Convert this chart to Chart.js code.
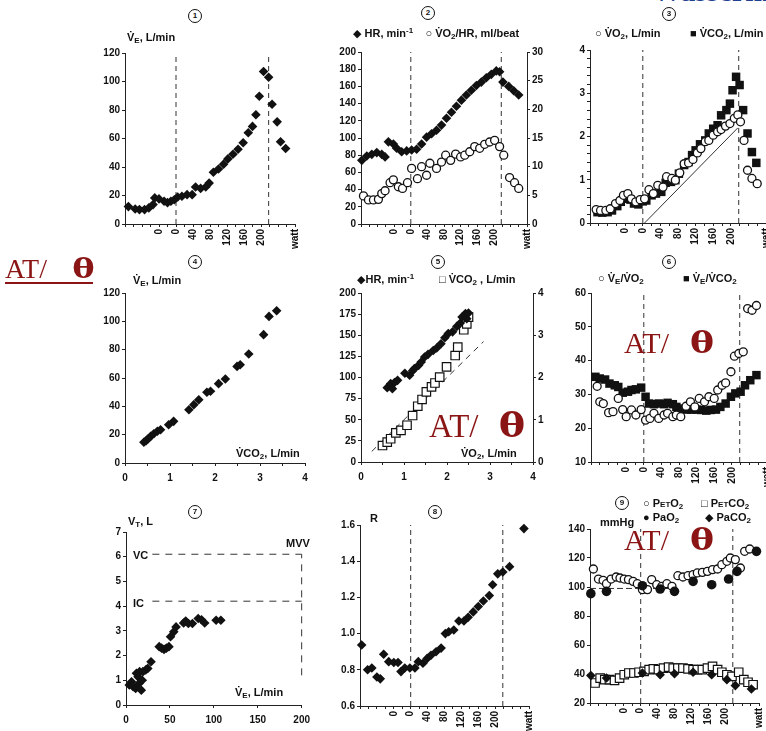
<!DOCTYPE html>
<html>
<head>
<meta charset="utf-8">
<script src="https://cdn.jsdelivr.net/npm/chart.js@4.4.0/dist/chart.umd.min.js"></script>
<style>
  body { margin: 0; background: #fff; width: 766px; height: 731px; overflow: hidden; position: relative;
         font-family: 'Liberation Sans', 'DejaVu Sans', sans-serif; }
  canvas { position: absolute; }
  .lbl { position: absolute; font-size: 11px; font-weight: bold; color: #111; white-space: nowrap; line-height: 12px; }
  .lbl sub { font-size: 8px; vertical-align: -2px; line-height: 0; }
  .lbl sup { font-size: 8px; vertical-align: 4px; line-height: 0; }
  .lbl small { font-size: 8px; }
  .num { position: absolute; width: 12px; height: 12px; border: 1.6px solid #111; border-radius: 50%;
         font-size: 8px; font-weight: bold; text-align: center; line-height: 12px; color: #111; }
  .at { position: absolute; font-family: 'Liberation Serif', 'Times New Roman', serif; color: #8b1515;
        line-height: 1; white-space: nowrap; }
  .at b { font-family: 'DejaVu Serif', serif; display: inline-block; transform: scaleX(1.2); }
  .wm { position: absolute; left: 652px; top: -26px; font-family: 'Liberation Serif', serif; font-weight: bold;
        font-size: 30px; color: #1f3f8f; white-space: nowrap; }
</style>
</head>
<body>
<div class="wm">Wasserman</div>

<canvas id="c1"></canvas><canvas id="c2"></canvas><canvas id="c3"></canvas>
<canvas id="c4"></canvas><canvas id="c5"></canvas><canvas id="c6"></canvas>
<canvas id="c7"></canvas><canvas id="c8"></canvas><canvas id="c9"></canvas>

<!-- panel 1 -->
<div class="num" style="left:188px;top:9px">1</div>
<div class="lbl" style="left:127px;top:31px">V&#775;<sub>E</sub>, L/min</div>
<!-- panel 2 -->
<div class="num" style="left:421px;top:6px">2</div>
<div class="lbl" style="left:353px;top:27px">&#9670; HR, min<sup>-1</sup>&nbsp;&nbsp;&nbsp;&nbsp;&#9675; V&#775;O<sub>2</sub>/HR, ml/beat</div>
<!-- panel 3 -->
<div class="num" style="left:662px;top:7px">3</div>
<div class="lbl" style="left:595px;top:27px">&#9675; V&#775;O<sub>2</sub>, L/min</div>
<div class="lbl" style="left:690px;top:27px">&#9632; V&#775;CO<sub>2</sub>, L/min</div>
<!-- panel 4 -->
<div class="num" style="left:188px;top:255px">4</div>
<div class="lbl" style="left:133px;top:274px">V&#775;<sub>E</sub>, L/min</div>
<div class="lbl" style="left:236px;top:447px">V&#775;CO<sub>2</sub>, L/min</div>
<!-- panel 5 -->
<div class="num" style="left:431px;top:255px">5</div>
<div class="lbl" style="left:357px;top:273px">&#9670;HR, min<sup>-1</sup></div>
<div class="lbl" style="left:439px;top:273px">&#9633; V&#775;CO<sub>2</sub> , L/min</div>
<div class="lbl" style="left:461px;top:447px">V&#775;O<sub>2</sub>, L/min</div>
<!-- panel 6 -->
<div class="num" style="left:662px;top:255px">6</div>
<div class="lbl" style="left:598px;top:272px">&#9675; V&#775;<sub>E</sub>/V&#775;O<sub>2</sub></div>
<div class="lbl" style="left:683px;top:272px">&#9632; V&#775;<sub>E</sub>/V&#775;CO<sub>2</sub></div>
<!-- panel 7 -->
<div class="num" style="left:188px;top:505px">7</div>
<div class="lbl" style="left:128px;top:515px">V<sub>T</sub>, L</div>
<div class="lbl" style="left:286px;top:537px">MVV</div>
<div class="lbl" style="left:133px;top:549px">VC</div>
<div class="lbl" style="left:133px;top:597px">IC</div>
<div class="lbl" style="left:235px;top:686px">V&#775;<sub>E</sub>, L/min</div>
<!-- panel 8 -->
<div class="num" style="left:428px;top:505px">8</div>
<div class="lbl" style="left:370px;top:512px">R</div>
<!-- panel 9 -->
<div class="num" style="left:615px;top:496px">9</div>
<div class="lbl" style="left:643px;top:497px">&#9675; P<small>ET</small>O<sub>2</sub></div>
<div class="lbl" style="left:701px;top:497px">&#9633; P<small>ET</small>CO<sub>2</sub></div>
<div class="lbl" style="left:643px;top:511px">&#9679; PaO<sub>2</sub></div>
<div class="lbl" style="left:705px;top:511px">&#9670; PaCO<sub>2</sub></div>
<div class="lbl" style="left:600px;top:516px">mmHg</div>

<!-- AT / theta marks -->
<div class="at" style="left:5px;top:257px;font-size:28px;border-bottom:2px solid #8b1515;padding-bottom:1px;line-height:24px">AT/<b style="margin-left:27px">&theta;</b></div>
<div class="at" style="left:429px;top:409px;font-size:33px">AT/<b style="margin-left:22px">&theta;</b></div>
<div class="at" style="left:624px;top:328px;font-size:30px">AT/<b style="margin-left:23px">&theta;</b></div>
<div class="at" style="left:624px;top:525px;font-size:30px">AT/<b style="margin-left:23px">&theta;</b></div>

<script>
// ---------- data ----------
// time axis (minutes) shared by panels 1,2,3,6,8,9
const rampTicks = [4, 6, 8, 10, 12, 14, 16, 20];
const rampLabels = ['0', '0', '40', '80', '120', '160', '200', 'watt'];
const rampMarks = [6, 16.9];   // start of ramp, end of exercise

// 1: VE vs time
const p1Time = [0.4, 1.2, 1.7, 2.3, 2.8, 3.3, 3.5, 4.0, 4.6, 5.0, 5.4, 5.8, 6.2, 6.7, 7.3, 7.9, 8.3, 8.9, 9.5, 9.9, 10.4, 11.0, 11.6, 12.1, 12.7, 13.3, 13.9, 14.5, 15.0, 15.4, 15.8, 16.3, 16.9, 17.3, 17.9, 18.3, 18.9];
const p1VE = [12.2, 10.5, 10.1, 10.1, 11.3, 13.6, 18.3, 17.6, 16, 15, 16, 17, 19, 19.5, 20.6, 20.6, 26, 25, 26, 28.7, 36.3, 38.6, 42, 45.7, 49, 52.5, 57, 64, 68.5, 76.7, 89.6, 107, 103, 84, 71.7, 57.7, 53];

// 2: HR and O2 pulse vs time
const p2HRTime = [0.1, 0.7, 1.3, 1.9, 2.5, 2.9, 3.3, 3.9, 4.3, 4.9, 5.5, 6.1, 6.7, 7.3, 7.9, 8.5, 9.1, 9.7, 10.3, 10.9, 11.5, 12.1, 12.7, 13.3, 13.9, 14.5, 15.1, 15.7, 16.3, 16.7, 17.1, 17.8, 18.4, 19.0];
const p2HR = [74, 79, 81, 83, 81, 78, 95.5, 93, 88, 84, 85, 86, 87, 93, 101, 105, 109, 115, 123, 130, 137, 144, 150, 155.5, 161, 165, 170, 174, 178, 177, 165, 160, 155, 150];
const p2PulseTime = [0.3, 0.9, 1.5, 2.1, 2.5, 2.9, 3.5, 3.9, 4.5, 5.0, 5.6, 6.1, 6.8, 7.3, 7.9, 8.3, 9.1, 9.7, 10.2, 10.8, 11.4, 12.0, 12.5, 13.1, 13.7, 14.3, 14.9, 15.5, 16.1, 16.7, 17.2, 17.9, 18.5, 19.0];
const p2Pulse = [4.9, 4.2, 4.2, 4.3, 5.3, 5.8, 7.2, 7.7, 6.5, 6.2, 7.2, 9.7, 7.9, 10, 8.5, 10.6, 9.7, 10.8, 12, 11.1, 12.2, 11.7, 12, 12.6, 13.5, 13.2, 13.9, 14.3, 14.6, 13.5, 12, 8.1, 7.2, 6.2];

// 3: VO2 and VCO2 vs time
const p3VO2Time = [0.7, 1.2, 1.8, 2.3, 2.9, 3.4, 3.8, 4.3, 4.7, 5.2, 5.7, 6.2, 6.7, 7.2, 7.7, 8.3, 8.7, 9.3, 9.7, 10.2, 10.7, 11.2, 11.7, 12.2, 12.6, 13.1, 13.5, 14.0, 14.5, 14.9, 15.4, 15.9, 16.4, 16.8, 17.1, 17.5, 17.9, 18.4, 19.0];
const p3VO2 = [0.31, 0.29, 0.29, 0.33, 0.45, 0.52, 0.64, 0.68, 0.56, 0.49, 0.54, 0.56, 0.77, 0.68, 0.87, 0.83, 1.07, 1.03, 0.99, 1.16, 1.37, 1.39, 1.47, 1.62, 1.72, 1.88, 1.91, 2.03, 2.11, 2.16, 2.24, 2.3, 2.42, 2.5, 2.34, 1.91, 1.22, 1.03, 0.91];
const p3VCO2Time = [0.85, 1.4, 2.0, 2.5, 3.1, 3.5, 4.0, 4.6, 5.0, 5.5, 6.0, 6.4, 7.0, 7.5, 8.1, 8.6, 9.2, 9.7, 10.1, 10.7, 11.2, 11.6, 12.0, 12.5, 13.1, 13.5, 14.0, 14.5, 14.9, 15.5, 15.9, 16.2, 16.6, 17.0, 17.4, 17.9, 18.4, 18.9];
const p3VCO2 = [0.25, 0.24, 0.25, 0.29, 0.39, 0.49, 0.56, 0.54, 0.45, 0.43, 0.5, 0.52, 0.64, 0.68, 0.72, 0.93, 0.95, 0.99, 1.14, 1.34, 1.41, 1.57, 1.68, 1.82, 1.91, 2.07, 2.18, 2.26, 2.49, 2.61, 2.76, 3.07, 3.38, 3.19, 2.61, 2.07, 1.64, 1.39];
const p3LineTime = [6.2, 16.8];
const p3LineVO2 = [0, 2.2];

// 4: VE vs VCO2
const p4VCO2 = [0.42, 0.47, 0.51, 0.57, 0.64, 0.72, 0.79, 0.97, 1.08, 1.42, 1.53, 1.64, 1.82, 1.9, 2.08, 2.23, 2.49, 2.56, 2.75, 3.08, 3.2, 3.37];
const p4VE = [14.6, 15.8, 16.9, 18.8, 20.7, 22.4, 23.5, 27, 29.4, 37.6, 41.2, 44.7, 49.9, 50.6, 56, 59.3, 68.2, 69.4, 76.9, 90.6, 103.5, 107.5];

// 5: HR and VCO2 vs VO2
const p5HRVO2 = [0.61, 0.69, 0.73, 0.78, 0.85, 1.02, 1.13, 1.2, 1.24, 1.34, 1.4, 1.48, 1.56, 1.68, 1.76, 1.86, 1.95, 2.03, 2.13, 2.23, 2.31, 2.35, 2.43, 2.46, 2.5];
const p5HR = [88, 92.7, 86.8, 94, 96.6, 105, 102.6, 108, 110.5, 114.4, 118.3, 124.3, 127.4, 132, 135, 140, 147, 152, 154, 160.5, 164.5, 171.6, 175.6, 169.6, 176.3];
const p5CO2VO2 = [0.5, 0.61, 0.69, 0.81, 0.93, 1.07, 1.2, 1.32, 1.42, 1.52, 1.64, 1.72, 1.83, 1.99, 2.19, 2.25, 2.39, 2.46, 2.5];
const p5VCO2 = [0.39, 0.47, 0.55, 0.69, 0.75, 0.87, 1.1, 1.32, 1.48, 1.66, 1.78, 1.87, 2.01, 2.25, 2.52, 2.72, 3.13, 3.27, 3.43];
const p5LineVO2 = [0.25, 2.85];
const p5LineVCO2 = [0.25, 2.85];

// 6: ventilatory equivalents vs time
const p6EqO2Time = [0.7, 1.0, 1.4, 2.0, 2.5, 3.1, 3.6, 4.0, 4.6, 5.1, 5.7, 6.2, 6.7, 7.15, 7.7, 8.3, 8.7, 9.3, 9.7, 10.2, 10.8, 11.3, 11.8, 12.3, 12.9, 13.4, 14.0, 14.4, 14.9, 15.3, 15.9, 16.3, 16.8, 17.3, 17.8, 18.3, 18.8];
const p6EqO2 = [32.4, 27.8, 27.3, 24.6, 24.9, 28.8, 25.5, 23.4, 25.4, 23.9, 25.5, 22.4, 22.9, 24.4, 22.9, 23.9, 24.4, 23.4, 23.9, 23.4, 26.5, 27.8, 26.3, 28.8, 27.8, 29.3, 28.8, 31.3, 32.7, 33.4, 36.7, 41.3, 42.1, 42.6, 55.4, 54.9, 56.3];
const p6EqCO2Time = [0.5, 1.0, 1.6, 2.1, 2.7, 3.1, 3.6, 4.2, 4.6, 5.1, 5.7, 6.2, 6.6, 7.15, 7.7, 8.3, 8.7, 9.3, 9.7, 10.3, 10.9, 11.4, 12.0, 12.5, 13.1, 13.6, 14.2, 14.7, 15.3, 15.9, 16.4, 17.0, 17.5, 18.1, 18.8];
const p6EqCO2 = [35.2, 34.7, 34.4, 33.2, 32.7, 32.2, 30.5, 30.8, 31.3, 31.5, 32.0, 29.3, 27.3, 27.1, 27.3, 27.1, 27.5, 27.1, 26.3, 25.8, 25.5, 25.5, 25.5, 25.4, 25.2, 25.4, 25.5, 26.3, 27.3, 29.3, 30.3, 30.8, 32.7, 34.2, 35.7];

// 7: VT vs VE
const p7VE = [3.7, 6.3, 8.1, 11, 11.9, 13.7, 14.8, 15.5, 17.4, 18.5, 19.3, 22.5, 24.8, 28.5, 37.8, 40.5, 43.3, 46, 48.9, 50.7, 54.4, 57, 65.6, 68, 71, 75.6, 82.2, 86, 89.6, 102.6, 108];
const p7VT = [0.81, 0.94, 0.74, 0.67, 1.28, 1.14, 0.87, 1.35, 0.6, 1.0, 1.35, 1.42, 1.48, 1.75, 2.36, 2.3, 2.25, 2.3, 2.36, 2.76, 2.96, 3.16, 3.32, 3.4, 3.3, 3.3, 3.5, 3.45, 3.32, 3.43, 3.43];
const p7VCLevel = 6.1;
const p7ICLevel = 4.2;
const p7MVV = 200;

// 8: R vs time
const p8Time = [0.2, 0.9, 1.4, 2.0, 2.4, 2.8, 3.4, 4.0, 4.5, 4.85, 5.3, 5.9, 6.5, 6.9, 7.45, 7.95, 8.4, 9.0, 9.6, 10.1, 10.5, 11.1, 11.7, 12.3, 12.8, 13.4, 14.0, 14.6, 15.3, 15.7, 16.3, 16.9, 17.7, 19.4];
const p8R = [0.937, 0.80, 0.81, 0.76, 0.75, 0.886, 0.845, 0.84, 0.84, 0.79, 0.81, 0.81, 0.81, 0.845, 0.836, 0.863, 0.88, 0.90, 0.92, 1.0, 1.01, 1.02, 1.07, 1.07, 1.09, 1.12, 1.15, 1.18, 1.21, 1.27, 1.33, 1.34, 1.37, 1.58];

// 9: gas tensions vs time
const p9PetO2Time = [0.4, 1.0, 1.55, 1.95, 2.5, 3.1, 3.55, 4.05, 4.55, 5.1, 5.6, 6.2, 6.8, 7.3, 7.9, 8.5, 9.1, 9.7, 10.4, 11.0, 11.6, 12.2, 12.7, 13.3, 13.9, 14.5, 15.1, 15.6, 16.2, 16.6, 17.2, 17.8, 18.3, 18.9];
const p9PetO2 = [112.4, 105.5, 104.6, 102.3, 105.5, 106.9, 106.2, 105.5, 105.1, 103.9, 102.3, 98.2, 98.2, 105.1, 101.6, 100.5, 102.3, 100.5, 107.8, 106.9, 107.8, 108.5, 109.7, 110.1, 110.8, 112, 112.4, 115.4, 117.7, 120, 118.9, 113.1, 124.6, 126.2];
const p9PaO2Time = [0.1, 1.95, 6.2, 8.3, 10.0, 12.2, 14.4, 16.4, 17.4, 19.7];
const p9PaO2 = [95.4, 97, 100.9, 98.6, 97, 103.9, 101.6, 105.5, 110.8, 124.6];
const p9PetCO2Time = [0.6, 1.2, 1.75, 2.3, 2.9, 3.5, 4.05, 4.6, 5.2, 5.8, 6.4, 7.0, 7.5, 8.1, 8.7, 9.3, 9.85, 10.4, 11.0, 11.6, 12.2, 12.7, 13.3, 13.9, 14.5, 15.1, 15.6, 16.2, 16.8, 17.6, 18.2, 18.7, 19.3];
const p9PetCO2 = [33.8, 37.2, 36.1, 36.1, 35.6, 37.2, 39.5, 40.7, 40.7, 41.2, 41.8, 43, 43.5, 43, 44.1, 44.8, 44.1, 44.1, 44.1, 43.5, 43, 43, 43, 44.1, 45.3, 43, 41.2, 39.5, 38.4, 41.2, 36.1, 34.3, 32.6];
const p9PaCO2Time = [0.1, 1.95, 6.2, 8.3, 10.0, 12.2, 14.4, 16.2, 17.2, 19.1];
const p9PaCO2 = [38.9, 37.2, 40.7, 39.5, 40.2, 41.2, 39.5, 36.1, 32, 29.7];
const p9RestLineTime = [0, 10];
const p9RestLine = [99, 99];

// ---------- helpers ----------
Chart.defaults.font.family = "'Liberation Sans', Arial, sans-serif";
const INK = '#111';
const tickFont = { size: 10, weight: 'bold' };

const pts = (xs, ys) => xs.map((x, i) => ({ x: x, y: ys[i] }));

const diamond = { pointStyle: 'rectRot', pointRadius: 4.8, backgroundColor: INK, borderColor: INK, borderWidth: 0 };
const ring = { pointStyle: 'circle', pointRadius: 4, backgroundColor: '#fff', borderColor: INK, borderWidth: 1.3 };
const block = { pointStyle: 'rect', pointRadius: 6, backgroundColor: INK, borderColor: INK, borderWidth: 0 };
const box = { pointStyle: 'rect', pointRadius: 6, backgroundColor: '#fff', borderColor: INK, borderWidth: 1.2 };
const disc = { pointStyle: 'circle', pointRadius: 4.8, backgroundColor: INK, borderColor: INK, borderWidth: 0 };

function marks(xs, ys, style, axis) {
  return Object.assign({ data: pts(xs, ys), yAxisID: axis || 'y', clip: false }, style);
}
function line(xs, ys, dash, axis) {
  return { data: pts(xs, ys), showLine: true, pointRadius: 0, borderColor: '#333', borderWidth: 1,
           borderDash: dash || [], yAxisID: axis || 'y', clip: false };
}
function rampLines(lo, hi) {
  return rampMarks.map(t => line([t, t], [lo, hi], [5, 4]));
}

function axis(pos, min, max, values, fmt, size) {
  return {
    type: 'linear', position: pos, min: min, max: max,
    border: { display: true, color: '#222', width: 1 },
    grid: { drawOnChartArea: false, drawTicks: true, tickLength: 3, color: '#222' },
    ticks: { color: INK, font: tickFont, padding: 2, autoSkip: false,
             callback: fmt || (v => String(v)) },
    afterBuildTicks: s => { s.ticks = values.map(v => ({ value: v })); },
    afterFit: s => { if (pos === 'bottom') s.height = size; else s.width = size; }
  };
}
function range(a, b, step) {
  const out = [];
  for (let v = a; v <= b + 1e-9; v += step) out.push(Math.round(v * 1000) / 1000);
  return out;
}
function rampAxis() {
  const a = axis('bottom', 0, 20, range(0, 20, 1), v => {
    const i = rampTicks.indexOf(v);
    return i < 0 ? '' : rampLabels[i];
  }, 45);
  a.ticks.minRotation = 90;
  a.ticks.maxRotation = 90;
  return a;
}
function valueAxis(min, max, step, labelStep) {
  const a = axis('bottom', min, max, range(min, max, step),
    v => (Math.abs(v / labelStep - Math.round(v / labelStep)) < 1e-6 ? String(v) : ''), 45);
  a.ticks.padding = 6;
  a.ticks.maxRotation = 0;
  return a;
}

// place a canvas so that its chart area lands on the given page box
function panel(id, area, datasets, scales, rightAxis) {
  const padL = 40, padT = 10, padR = rightAxis ? 40 : 10, padB = 45;
  const cv = document.getElementById(id);
  cv.width = area.r - area.l + padL + padR;
  cv.height = area.b - area.t + padT + padB;
  cv.style.left = (area.l - padL) + 'px';
  cv.style.top = (area.t - padT) + 'px';
  new Chart(cv, {
    type: 'scatter',
    data: { datasets: datasets },
    options: {
      responsive: false,
      animation: false,
      layout: { padding: { left: 0, top: padT, right: rightAxis ? 0 : padR, bottom: 0 } },
      plugins: { legend: { display: false }, tooltip: { enabled: false } },
      scales: scales
    }
  });
}

// ---------- panels ----------
panel('c1', { l: 125, r: 299, t: 53, b: 224 }, [
  marks(p1Time, p1VE, diamond),
  ...rampLines(0, 120)
], { x: rampAxis(), y: axis('left', 0, 120, range(0, 120, 20), null, 40) });

panel('c2', { l: 361, r: 527, t: 52, b: 224 }, [
  marks(p2HRTime, p2HR, diamond),
  marks(p2PulseTime, p2Pulse, ring, 'y2'),
  ...rampLines(0, 200)
], { x: rampAxis(), y: axis('left', 0, 200, range(0, 200, 20), null, 40),
     y2: axis('right', 0, 30, range(0, 30, 5), null, 40) }, true);

panel('c3', { l: 590, r: 770, t: 50, b: 223 }, [
  marks(p3VO2Time, p3VO2, ring),
  marks(p3VCO2Time, p3VCO2, block),
  line(p3LineTime, p3LineVO2),
  ...rampLines(0, 4)
], { x: rampAxis(), y: axis('left', 0, 4, range(0, 4, 0.2), v => (Number.isInteger(v) ? String(v) : ''), 40) });

panel('c4', { l: 125, r: 305, t: 293, b: 463 }, [
  marks(p4VCO2, p4VE, diamond)
], { x: valueAxis(0, 4, 0.5, 1), y: axis('left', 0, 120, range(0, 120, 20), null, 40) });

panel('c5', { l: 361, r: 533, t: 293, b: 462 }, [
  marks(p5HRVO2, p5HR, diamond),
  marks(p5CO2VO2, p5VCO2, box, 'y2'),
  line(p5LineVO2, p5LineVCO2, [6, 5], 'y2')
], { x: valueAxis(0, 4, 0.5, 1), y: axis('left', 0, 200, range(0, 200, 25), null, 40),
     y2: axis('right', 0, 4, range(0, 4, 1), null, 40) }, true);

panel('c6', { l: 591, r: 771, t: 293, b: 462 }, [
  marks(p6EqO2Time, p6EqO2, ring),
  marks(p6EqCO2Time, p6EqCO2, block),
  ...rampLines(10, 60)
], { x: rampAxis(), y: axis('left', 10, 60, range(10, 60, 10), null, 40) });

panel('c7', { l: 126, r: 306, t: 532, b: 705 }, [
  marks(p7VE, p7VT, diamond),
  line([30, p7MVV], [p7VCLevel, p7VCLevel], [7, 6]),
  line([30, p7MVV], [p7ICLevel, p7ICLevel], [7, 6]),
  line([p7MVV, p7MVV], [1.2, p7VCLevel], [7, 6])
], { x: valueAxis(0, 200, 50, 50), y: axis('left', 0, 7, range(0, 7, 1), null, 40) });

panel('c8', { l: 360, r: 533, t: 525, b: 706 }, [
  marks(p8Time, p8R, diamond),
  ...rampLines(0.6, 1.6)
], { x: rampAxis(), y: axis('left', 0.6, 1.6, range(0.6, 1.6, 0.2), v => v.toFixed(1), 40) });

panel('c9', { l: 590, r: 763, t: 529, b: 703 }, [
  marks(p9PaO2Time, p9PaO2, disc),
  marks(p9PaCO2Time, p9PaCO2, diamond),
  marks(p9PetO2Time, p9PetO2, ring),
  marks(p9PetCO2Time, p9PetCO2, box),
  line(p9RestLineTime, p9RestLine, [6, 3]),
  ...rampLines(20, 140)
], { x: rampAxis(), y: axis('left', 20, 140, range(20, 140, 20), null, 40) });
</script>
</body>
</html>
